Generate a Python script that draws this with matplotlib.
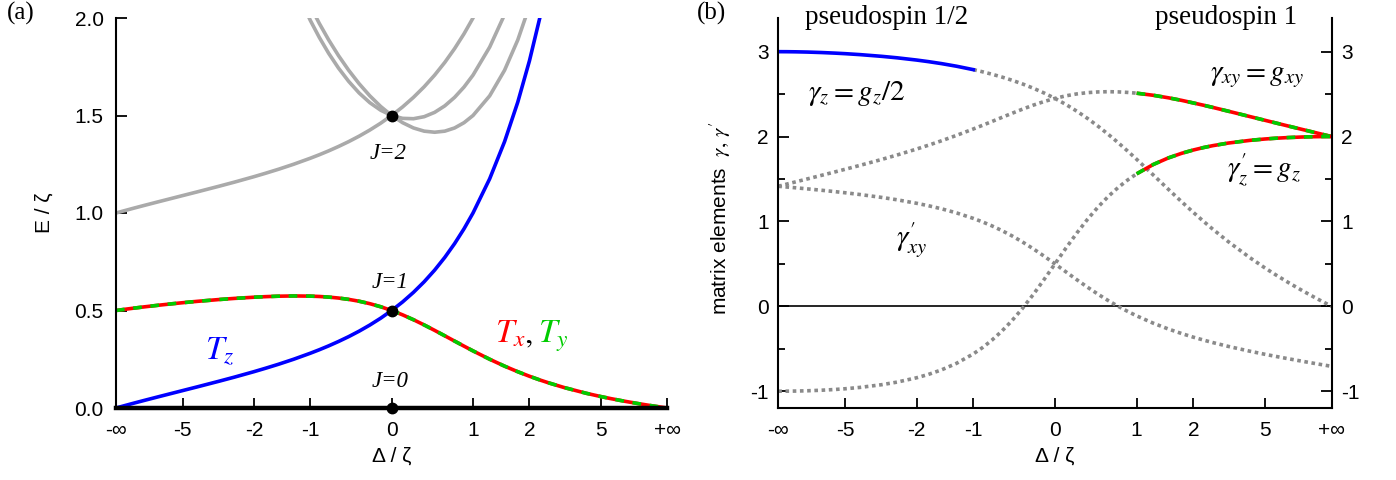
import numpy as np
import matplotlib
matplotlib.use('Agg')
import matplotlib.pyplot as plt
import matplotlib.ticker as mticker

plt.rcParams['font.family'] = ['Liberation Sans', 'DejaVu Sans']
plt.rcParams['mathtext.fontset'] = 'stix'
plt.rcParams['axes.unicode_minus'] = False

inf = np.inf

# tetragonal splitting Delta / zeta, shared by both panels
delta = [-inf, -40, -20, -12, -8, -6, -5, -4, -3, -2.5, -2, -1.75, -1.5, -1.25, -1,
         -0.875, -0.75, -0.625, -0.5, -0.375, -0.25, -0.125, 0, 0.125, 0.25, 0.375, 0.5,
         0.625, 0.75, 0.875, 1, 1.25, 1.5, 1.75, 2, 2.25, 2.5, 3, 4, 5, 6, 8, 12, 20, 40, inf]

# ---- (a) level energies relative to the ground state, E / zeta ----
e_txy = [0.5, 0.5061, 0.5119, 0.5191, 0.5273, 0.5347, 0.5400, 0.5470, 0.5563, 0.5620,
         0.5681, 0.5710, 0.5734, 0.5746, 0.5737, 0.5719, 0.5687, 0.5639, 0.5570, 0.5475,
         0.5350, 0.5192, 0.5, 0.4777, 0.4527, 0.4259, 0.3981, 0.3702, 0.3431, 0.3172,
         0.2929, 0.25, 0.2146, 0.1860, 0.1628, 0.1439, 0.1285, 0.1050, 0.0759, 0.0590,
         0.0481, 0.0350, 0.0225, 0.0131, 0.0064, 0.0]
e_tz = [0.0, 0.0123, 0.0244, 0.0399, 0.0584, 0.0760, 0.0895, 0.1085, 0.1375, 0.1583,
        0.1861, 0.2038, 0.2247, 0.25, 0.2808, 0.2987, 0.3187, 0.3411, 0.3660, 0.3940,
        0.4254, 0.4606, 0.5, 0.5440, 0.5931, 0.6474, 0.7071, 0.7724, 0.8431, 0.9190,
        1.0, 1.1754, 1.3660, 1.5687, 1.7808, 2.0, 2.2247]
e_j2_low = [1.0, 1.0123, 1.0244, 1.0399, 1.0584, 1.0760, 1.0895, 1.1085, 1.1375, 1.1583,
            1.1861, 1.2038, 1.2247, 1.25, 1.2808, 1.2987, 1.3187, 1.3411, 1.3660, 1.3940,
            1.4254, 1.4606, 1.5, 1.5440, 1.5931, 1.6474, 1.7071, 1.7724, 1.8431, 1.9190,
            2.0, 2.1754, 2.3660]
# the two upper J=2 branches, starting at Delta = -1.25
e_j2_mid = [2.1754, 1.9879, 1.9006, 1.8187, 1.7432, 1.6751, 1.6155, 1.5658, 1.5270, 1.5,
            1.4854, 1.4835, 1.4939, 1.5161, 1.5495, 1.5931, 1.6459, 1.7071, 1.8508, 2.0174,
            2.2015]
e_j2_top = [2.25, 2.0616, 1.9725, 1.8875, 1.8071, 1.7321, 1.6630, 1.6008, 1.5462, 1.5,
            1.4631, 1.4361, 1.4197, 1.4142, 1.4197, 1.4361, 1.4631, 1.5, 1.6008, 1.7321,
            1.8875, 2.0616]
delta_j0 = [-inf, inf]
e_j0 = [0.0, 0.0]
delta_J = [0, 0, 0]
e_J = [0.0, 0.5, 1.5]

# ---- (b) matrix elements gamma, gamma' ----
g_z = [3.0, 2.9995, 2.9982, 2.9953, 2.9898, 2.9828, 2.9763, 2.9653, 2.9449, 2.9276,
       2.9012, 2.8827, 2.8591, 2.8284, 2.7882, 2.7635, 2.7350, 2.7021, 2.6642, 2.6207,
       2.5707, 2.5138, 2.4495, 2.3777, 2.2985, 2.2127, 2.1213, 2.0258, 1.9279, 1.8294,
       1.7321, 1.5465, 1.3791, 1.2328, 1.1071, 1.0, 0.9087, 0.7637, 0.5725, 0.4550,
       0.3765, 0.2792, 0.1834, 0.1086, 0.0537, 0.0]
g_xy = [1.4142, 1.4406, 1.4668, 1.5010, 1.5429, 1.5835, 1.6150, 1.6604, 1.7310, 1.7828,
        1.8529, 1.8976, 1.9507, 2.0141, 2.0892, 2.1315, 2.1766, 2.2240, 2.2729, 2.3218,
        2.3689, 2.4121, 2.4495, 2.4798, 2.5024, 2.5175, 2.5258, 2.5284, 2.5261, 2.5200,
        2.5108, 2.4861, 2.4567, 2.4264, 2.3959, 2.3687, 2.3433, 2.2993, 2.2352, 2.1925,
        2.1624, 2.1232, 2.0828, 2.0499, 2.0250, 2.0]
g_z_p = [-1.0, -0.9995, -0.9981, -0.9948, -0.9884, -0.9796, -0.9709, -0.9552, -0.9230, -0.8927,
         -0.8416, -0.8024, -0.7481, -0.6713, -0.5607, -0.4878, -0.4, -0.2950, -0.1708, -0.0267,
         0.1362, 0.3139, 0.5, 0.6861, 0.8638, 1.0267, 1.1708, 1.2950, 1.4, 1.4878,
         1.5607, 1.6713, 1.7481, 1.8024, 1.8416, 1.8707, 1.8927, 1.9230, 1.9552, 1.9709,
         1.9796, 1.9884, 1.9948, 1.9981, 1.9995, 2.0]
g_xy_p = [1.4142, 1.4053, 1.3961, 1.3836, 1.3675, 1.3511, 1.3377, 1.3172, 1.2827, 1.2550,
          1.2139, 1.1854, 1.1486, 1.1004, 1.0360, 0.9956, 0.9487, 0.8941, 0.8313, 0.7596,
          0.6795, 0.5923, 0.5, 0.4058, 0.3130, 0.2243, 0.1420, 0.0671, 0.0, -0.0595,
          -0.1121, -0.1991, -0.2670, -0.3204, -0.3633, -0.3981, -0.4269, -0.4714, -0.5290, -0.5643,
          -0.5881, -0.6179, -0.6477, -0.6716, -0.6894, -0.7071]

i_j2 = delta.index(-1.25)  # upper J=2 branches start here
i_m1 = delta.index(-1)     # pseudospin 1/2 part ends
i_p1 = delta.index(1)      # pseudospin 1 part starts

BIG = 1e9
tick_delta = [-BIG, -5, -2, -1, 0, 1, 2, 5, BIG]
tick_labels = ['-∞', '-5', '-2', '-1', '0', '1', '2', '5', '+∞']


def fwd(d):
    return 2 / np.pi * np.arctan(np.asarray(d, dtype=float) / 2.0)


def inv(u):
    u = np.clip(np.asarray(u, dtype=float), -1 + 1e-12, 1 - 1e-12)
    return 2.0 * np.tan(np.pi / 2 * u)


RED, GREEN, BLUE, GRAY, DOT = '#ff0000', '#00cc00', '#0000ff', '#aaaaaa', '#8a8a8a'
LW = 2.6
TFS = 15


def dashed_rg(ax, x, y):
    ax.plot(x, y, color=RED, lw=LW, solid_capstyle='butt')
    ax.plot(x, y, color=GREEN, lw=LW, dashes=(2.4, 2.4), dash_capstyle='butt')


def dotted(ax, x, y):
    ax.plot(x, y, color=DOT, lw=LW, dashes=(1.0, 1.0), dash_capstyle='butt')


def setup_x(ax):
    ax.set_xscale('function', functions=(fwd, inv))
    ax.set_xlim(-BIG, BIG)
    ax.xaxis.set_major_locator(mticker.FixedLocator(tick_delta))
    ax.xaxis.set_major_formatter(mticker.FixedFormatter(tick_labels))
    ax.xaxis.set_minor_locator(mticker.NullLocator())
    ax.tick_params(axis='x', direction='in', length=7, width=1.3, pad=9, labelsize=TFS)


fig = plt.figure(figsize=(13.96, 4.8), dpi=100)

# ---------------- panel (a) ----------------
ax1 = fig.add_axes([0.0831, 0.15, 0.3949, 0.8125])
setup_x(ax1)
ax1.set_ylim(0, 2)
ax1.plot(delta[:len(e_j2_low)], e_j2_low, color=GRAY, lw=LW)
ax1.plot(delta[i_j2:i_j2 + len(e_j2_mid)], e_j2_mid, color=GRAY, lw=LW)
ax1.plot(delta[i_j2:i_j2 + len(e_j2_top)], e_j2_top, color=GRAY, lw=LW)
dashed_rg(ax1, delta, e_txy)
ax1.plot(delta[:len(e_tz)], e_tz, color=BLUE, lw=LW)
ax1.plot(delta_j0, e_j0, color='k', lw=3.2, clip_on=False, zorder=4)
ax1.plot(delta_J, e_J, 'o', color='k', ms=7.5, clip_on=False, zorder=5)

ax1.yaxis.set_major_locator(mticker.MultipleLocator(0.5))
ax1.yaxis.set_major_formatter(mticker.FormatStrFormatter('%.1f'))
ax1.tick_params(axis='y', direction='in', length=8, width=1.3, pad=9, labelsize=TFS)
for s in ('top', 'right'):
    ax1.spines[s].set_visible(False)
for s in ('left', 'bottom'):
    ax1.spines[s].set_linewidth(1.5)
ax1.set_ylabel('E / ζ', fontsize=15)
ax1.yaxis.set_label_coords(-0.114, 0.5)
ax1.set_xlabel('Δ / ζ', fontsize=15)
ax1.xaxis.set_label_coords(0.5, -0.1)

jkw = dict(family='Liberation Serif', style='italic', fontsize=16.5, ha='center', va='center',
           transform=ax1.transAxes)
ax1.text(0.493, 0.653, 'J=2', **jkw)
ax1.text(0.497, 0.321, 'J=1', **jkw)
ax1.text(0.497, 0.069, 'J=0', **jkw)
tkw = dict(fontsize=24, transform=ax1.transAxes, ha='left', va='baseline')
ax1.text(0.1614, 0.125, r'$T_z$', color=BLUE, **tkw)
ax1.text(0.6875, 0.1667, r'$T_x$', color=RED, **tkw)
ax1.text(0.7407, 0.1667, r'$,$', color='k', **tkw)
ax1.text(0.7661, 0.1667, r'$T_y$', color=GREEN, **tkw)

# ---------------- panel (b) ----------------
ax2 = fig.add_axes([0.5575, 0.1496, 0.3964, 0.8135])
setup_x(ax2)
ax2.set_ylim(-1.2, 3.4)
ax2.axhline(0, color='k', lw=1.2, zorder=1)

dotted(ax2, delta[i_m1:], g_z[i_m1:])
dotted(ax2, delta[:i_p1 + 1], g_xy[:i_p1 + 1])
dotted(ax2, delta[:i_p1 + 1], g_z_p[:i_p1 + 1])
dotted(ax2, delta, g_xy_p)
ax2.plot(delta[:i_m1 + 1], g_z[:i_m1 + 1], color=BLUE, lw=LW)
dashed_rg(ax2, delta[i_p1:], g_xy[i_p1:])
dashed_rg(ax2, delta[i_p1:], g_z_p[i_p1:])

ax2.yaxis.set_major_locator(mticker.MultipleLocator(1))
ax2.yaxis.set_minor_locator(mticker.MultipleLocator(0.5))
ax2.yaxis.set_major_formatter(mticker.FormatStrFormatter('%d'))
ax2.tick_params(axis='y', which='major', direction='in', length=8, width=1.3, pad=7,
                labelsize=TFS, left=True, right=True, labelleft=True, labelright=True)
ax2.tick_params(axis='y', which='minor', direction='in', length=5, width=1.3,
                left=True, right=True)
ax2.spines['top'].set_visible(False)
for s in ('left', 'right', 'bottom'):
    ax2.spines[s].set_linewidth(1.5)
ax2.set_ylabel(r"matrix elements  $\gamma,\,\gamma^{\prime}$", fontsize=15)
ax2.yaxis.set_label_coords(-0.082, 0.487)
ax2.set_xlabel('Δ / ζ', fontsize=15)
ax2.xaxis.set_label_coords(0.5, -0.099)

skw = dict(family='Liberation Serif', fontsize=19.5, transform=ax2.transAxes, va='center')
ax2.text(0.048, 1.0, 'pseudospin 1/2', ha='left', **skw)
ax2.text(0.9373, 1.0, 'pseudospin 1', ha='right', **skw)
mkw = dict(fontsize=21, transform=ax2.transAxes, ha='center', va='center')
ax2.text(0.142, 0.807, r'$\gamma_z = g_z/2$', **mkw)
ax2.text(0.866, 0.851, r'$\gamma_{xy} = g_{xy}$', **mkw)
ax2.text(0.877, 0.610, r'$\gamma^{\prime}_{z} = g_z$', **mkw)
ax2.text(0.2414, 0.4307, r'$\gamma^{\prime}_{xy}$', **mkw)

fig.text(0.005, 0.972, '(a)', family='Liberation Serif', fontsize=18, va='center', ha='left')
fig.text(0.4993, 0.972, '(b)', family='Liberation Serif', fontsize=18, va='center', ha='left')

fig.savefig('out.png', dpi=100)
